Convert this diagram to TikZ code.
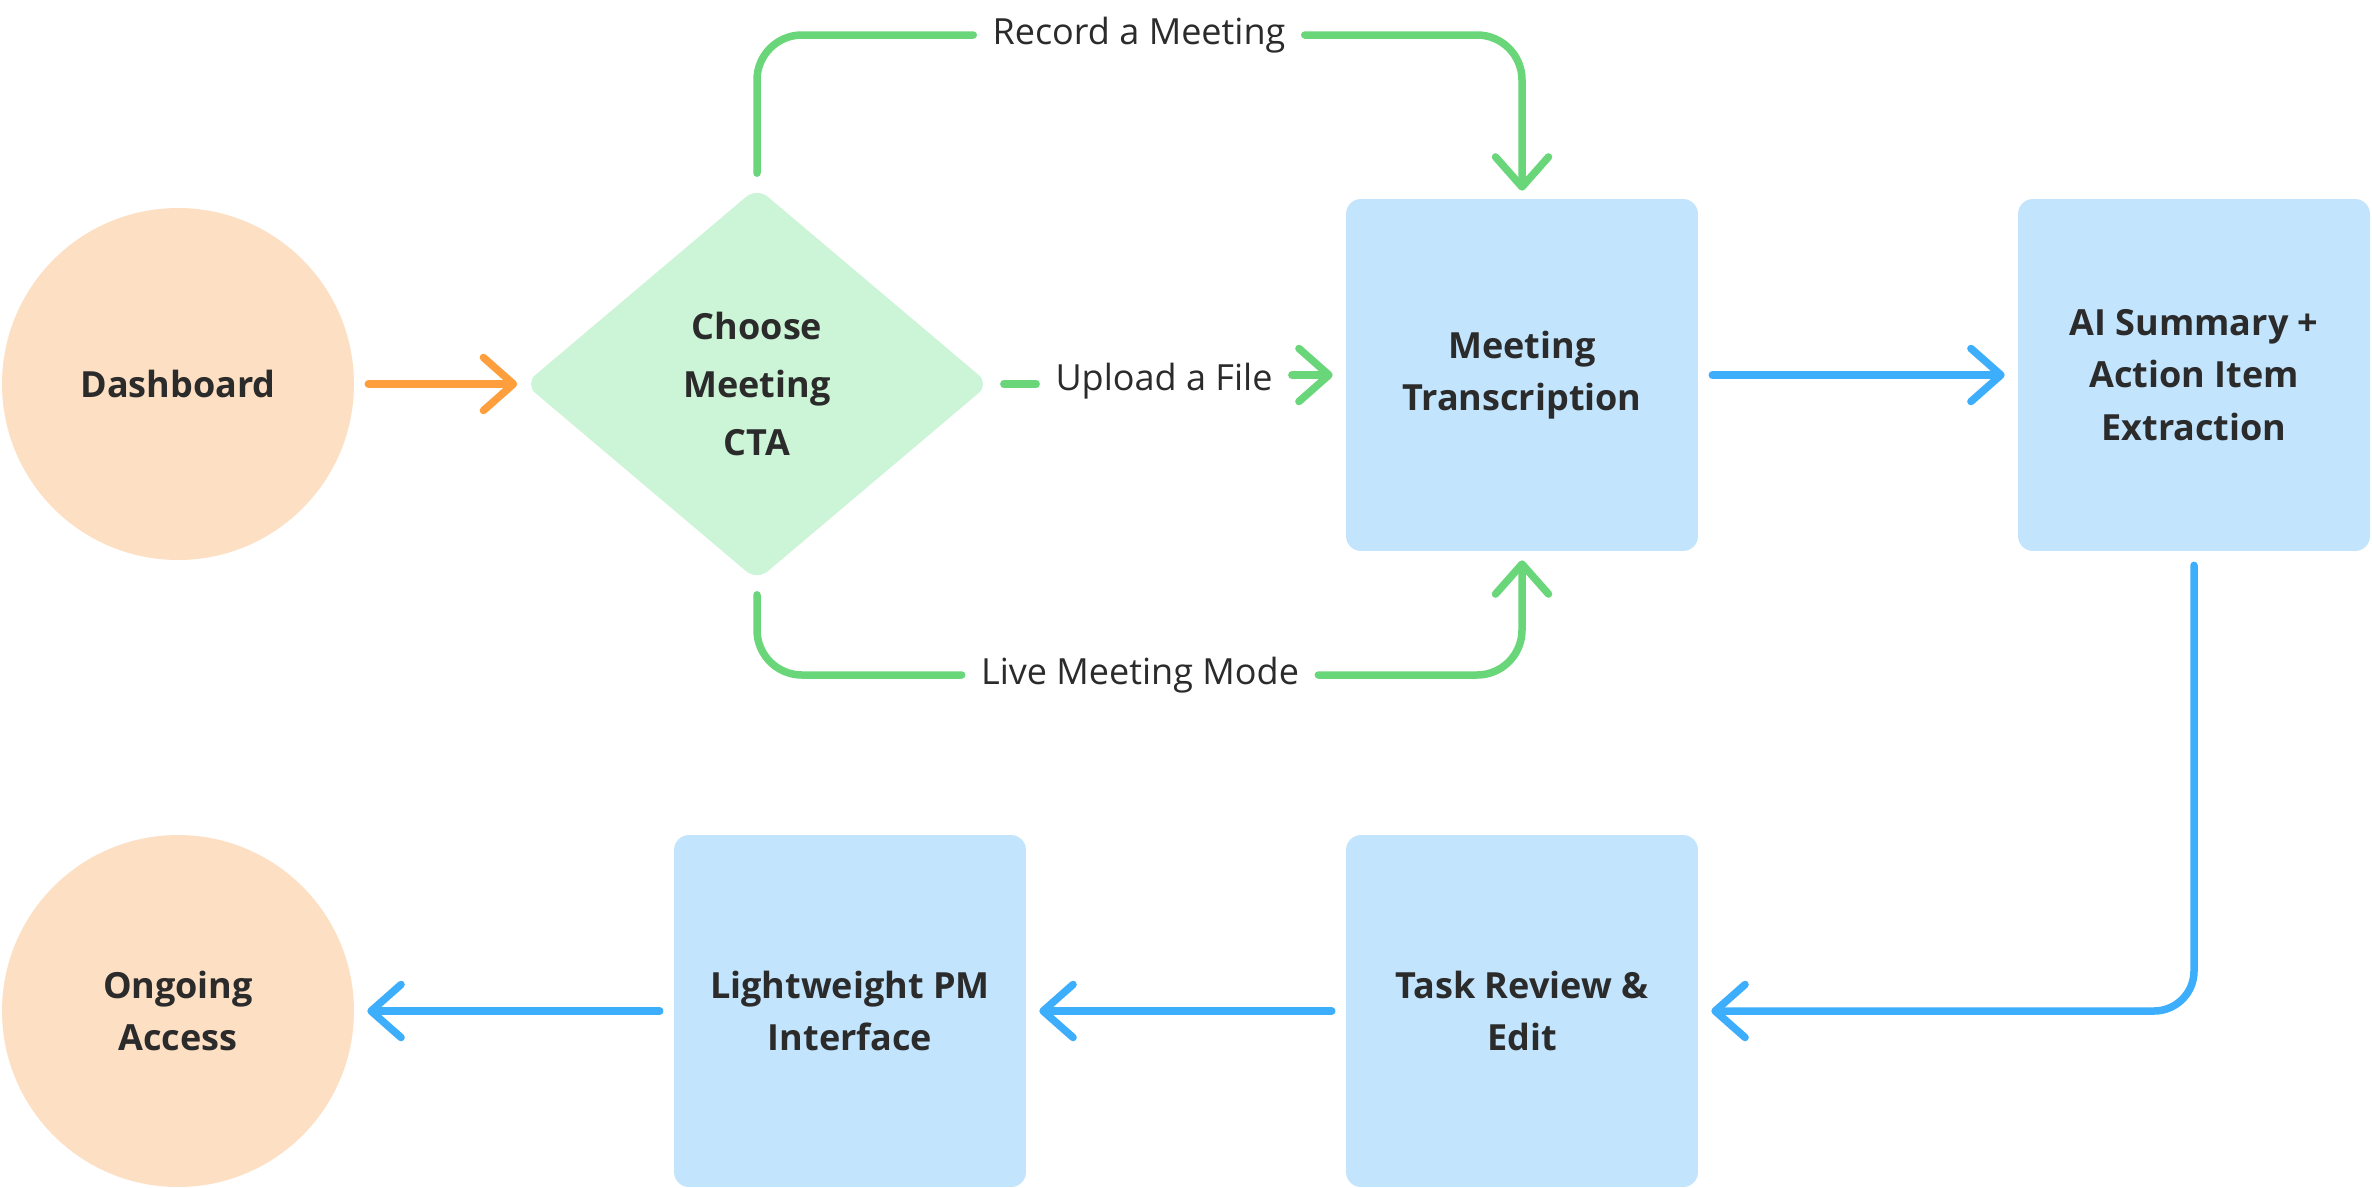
\documentclass[tikz,border=0pt]{standalone}
\usepackage{fontspec}
\setmainfont{Open Sans}
\usepackage{tikz}
\usepackage{xcolor}
\usetikzlibrary{arrows.meta,positioning,shapes.geometric}
\definecolor{ink}{HTML}{2B2B2B}
\definecolor{peach}{HTML}{FDDFC3}
\definecolor{mint}{HTML}{CCF4D6}
\definecolor{sky}{HTML}{C2E4FD}
\definecolor{linegreen}{HTML}{6AD67A}
\definecolor{lineblue}{HTML}{3DAEFB}
\definecolor{lineorange}{HTML}{FF9E3D}
\tikzset{
  endcircle/.style={circle,fill=peach,minimum size=7.04cm,inner sep=0pt,
                    align=center,text=ink,font=\bfseries\fontsize{20.5}{30}\selectfont},
  choicebox/.style={diamond,fill=mint,minimum width=9.3cm,minimum height=7.86cm,
                    inner sep=0pt,rounded corners=8pt,
                    align=center,text=ink,font=\bfseries\fontsize{20.5}{33}\selectfont},
  stepbox/.style={rectangle,fill=sky,rounded corners=0.3cm,
                  minimum width=7.04cm,minimum height=7.04cm,inner sep=0pt,
                  align=center,text=ink,font=\bfseries\fontsize{20.5}{30}\selectfont},
  flowline/.style={line width=0.15cm,line cap=round,
                   shorten <=0.28cm,shorten >=0.28cm},
  flowarr/.style={flowline,-{Straight Barb[length=0.6cm,width=1.06cm,round]},
                  shorten >=0.26cm},
  pathlabel/.style={text=ink,inner xsep=0.1cm,inner ysep=4pt,
                    font=\fontsize{20.5}{24}\selectfont}
}

\begin{document}
\begin{tikzpicture}[x=0.02cm,y=-0.02cm]
  \useasboundingbox[fill=white] (0,0) rectangle (2372,1187);

  % top row
  \node[endcircle] (dash) at (178,384) {Dashboard};
  \node[choicebox] (choose) at (757,384) {Choose\\Meeting\\CTA};
  \node[stepbox] (trans) at (1522,375) {Meeting\\Transcription};
  \node[stepbox] (summary) at (2194,375) {AI Summary +\\Action Item\\Extraction};

  % bottom row
  \node[stepbox] (review) at (1522,1011) {Task Review \&\\Edit};
  \node[stepbox] (pm) at (850,1011) {Lightweight PM\\Interface};
  \node[endcircle] (access) at (178,1011) {Ongoing\\Access};

  % labels on the green branches
  \node[pathlabel] (recordlbl) at (1139,35) {Record a Meeting};
  \node[pathlabel] (uploadlbl) at (1164,381) {Upload a File};
  \node[pathlabel] (livelbl) at (1140,675) {Live Meeting Mode};

  \draw[flowarr,lineorange,shorten >=0.14cm] (dash) -- (choose);

  \draw[flowline,linegreen,rounded corners=0.9cm] (choose.north) |- (recordlbl.west);
  \draw[flowarr,linegreen,rounded corners=0.9cm,shorten >=0.16cm]
    (recordlbl.east) -| (trans.north);
  \draw[flowline,linegreen] (choose.east) -- (choose.east -| uploadlbl.west);
  \draw[flowarr,linegreen] (uploadlbl.east |- trans.west) -- (trans.west);
  \draw[flowline,linegreen,rounded corners=0.9cm] (choose.south) |- (livelbl.west);
  \draw[flowarr,linegreen,rounded corners=0.9cm,shorten >=0.18cm]
    (livelbl.east) -| (trans.south);

  \draw[flowarr,lineblue] (trans) -- (summary);
  \draw[flowarr,lineblue,rounded corners=0.8cm] (summary.south) |- (review.east);
  \draw[flowarr,lineblue] (review) -- (pm);
  \draw[flowarr,lineblue] (pm) -- (access);
\end{tikzpicture}
\end{document}
